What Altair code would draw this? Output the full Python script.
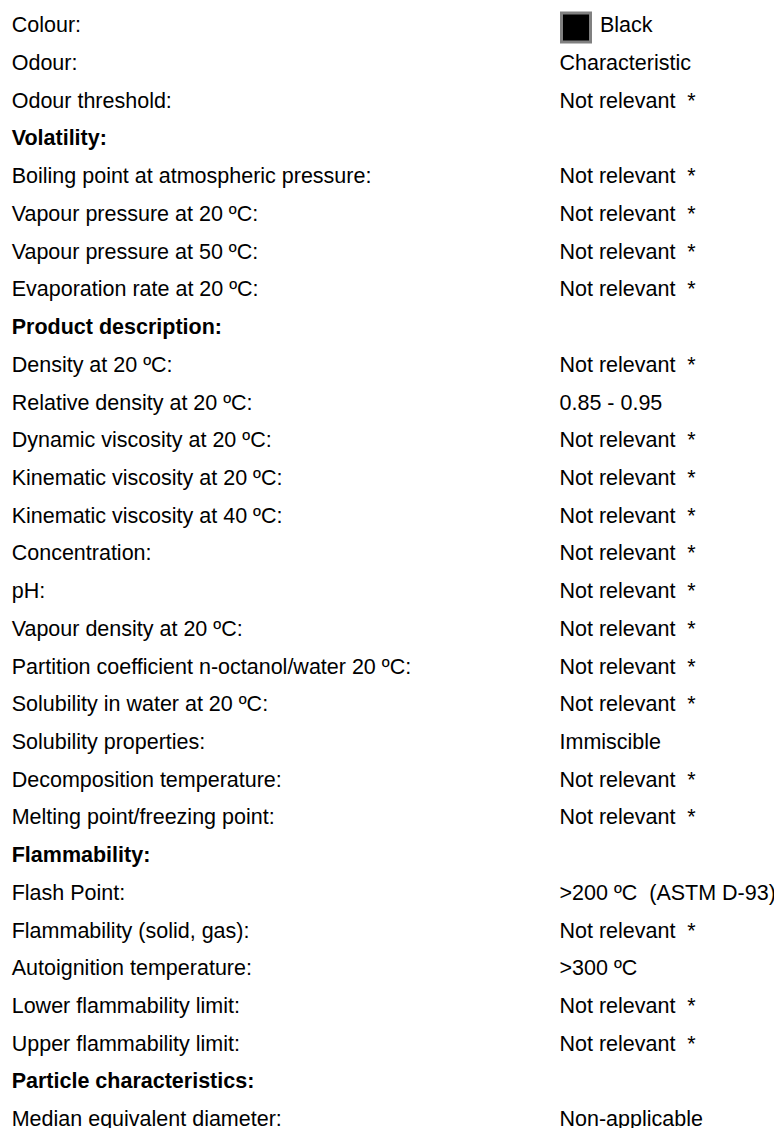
import altair as alt
import pandas as pd

labels = [
    "Colour:", "Odour:", "Odour threshold:", "Volatility:",
    "Boiling point at atmospheric pressure:", "Vapour pressure at 20 ºC:",
    "Vapour pressure at 50 ºC:", "Evaporation rate at 20 ºC:",
    "Product description:", "Density at 20 ºC:", "Relative density at 20 ºC:",
    "Dynamic viscosity at 20 ºC:", "Kinematic viscosity at 20 ºC:",
    "Kinematic viscosity at 40 ºC:", "Concentration:", "pH:",
    "Vapour density at 20 ºC:", "Partition coefficient n-octanol/water 20 ºC:",
    "Solubility in water at 20 ºC:", "Solubility properties:",
    "Decomposition temperature:", "Melting point/freezing point:",
    "Flammability:", "Flash Point:", "Flammability (solid, gas):",
    "Autoignition temperature:", "Lower flammability limit:",
    "Upper flammability limit:", "Particle characteristics:",
    "Median equivalent diameter:",
]
NR = "Not relevant\u00a0\u00a0*"
values = [
    "Black", "Characteristic", NR, "",
    NR, NR, NR, NR,
    "", NR, "0.85 - 0.95",
    NR, NR, NR, NR, NR,
    NR, NR, NR, "Immiscible",
    NR, NR,
    "", ">200 ºC\u00a0\u00a0(ASTM D-93)", NR,
    ">300 ºC", NR, NR, "",
    "Non-applicable",
]
headers = ["Volatility:", "Product description:", "Flammability:", "Particle characteristics:"]

df = pd.DataFrame({
    "row": list(range(len(labels))),
    "label": labels,
    "value": values,
    "bold": [l in headers for l in labels],
})

FONT = "Liberation Sans"
FS = 21.5
yscale = alt.Scale(domain=[0, 29], range=[24.3, 24.3 + 29 * 37.72])
Y = alt.Y("row:Q", scale=yscale, axis=None)

base = alt.Chart(df)

left_plain = base.transform_filter("!datum.bold").mark_text(
    align="left", baseline="alphabetic", font=FONT, fontSize=FS, color="#000000"
).encode(x=alt.value(3.7), y=Y, text="label:N")

left_bold = base.transform_filter("datum.bold").mark_text(
    align="left", baseline="alphabetic", font=FONT, fontSize=FS, fontWeight="bold", color="#000000"
).encode(x=alt.value(3.7), y=Y, text="label:N")

right_main = base.transform_filter("datum.value != '' && datum.row != 0").mark_text(
    align="left", baseline="alphabetic", font=FONT, fontSize=FS, color="#000000"
).encode(x=alt.value(551.5), y=Y, text="value:N")

right_colour = base.transform_filter("datum.row == 0").mark_text(
    align="left", baseline="alphabetic", font=FONT, fontSize=FS, color="#000000"
).encode(x=alt.value(592), y=Y, text="value:N")

swatch = base.transform_filter("datum.row == 0").mark_point(
    shape="square", size=841, filled=True, fill="#000000", stroke="#808080",
    strokeWidth=3, opacity=1, yOffset=-4.8
).encode(x=alt.value(568), y=Y)

chart = alt.layer(left_plain, left_bold, right_main, right_colour, swatch).properties(
    width=766, height=1120, padding=0, autosize=alt.AutoSizeParams(type="none")
).configure_view(stroke=None)

chart.save("out.html", embed_options={"renderer": "svg", "actions": False})
